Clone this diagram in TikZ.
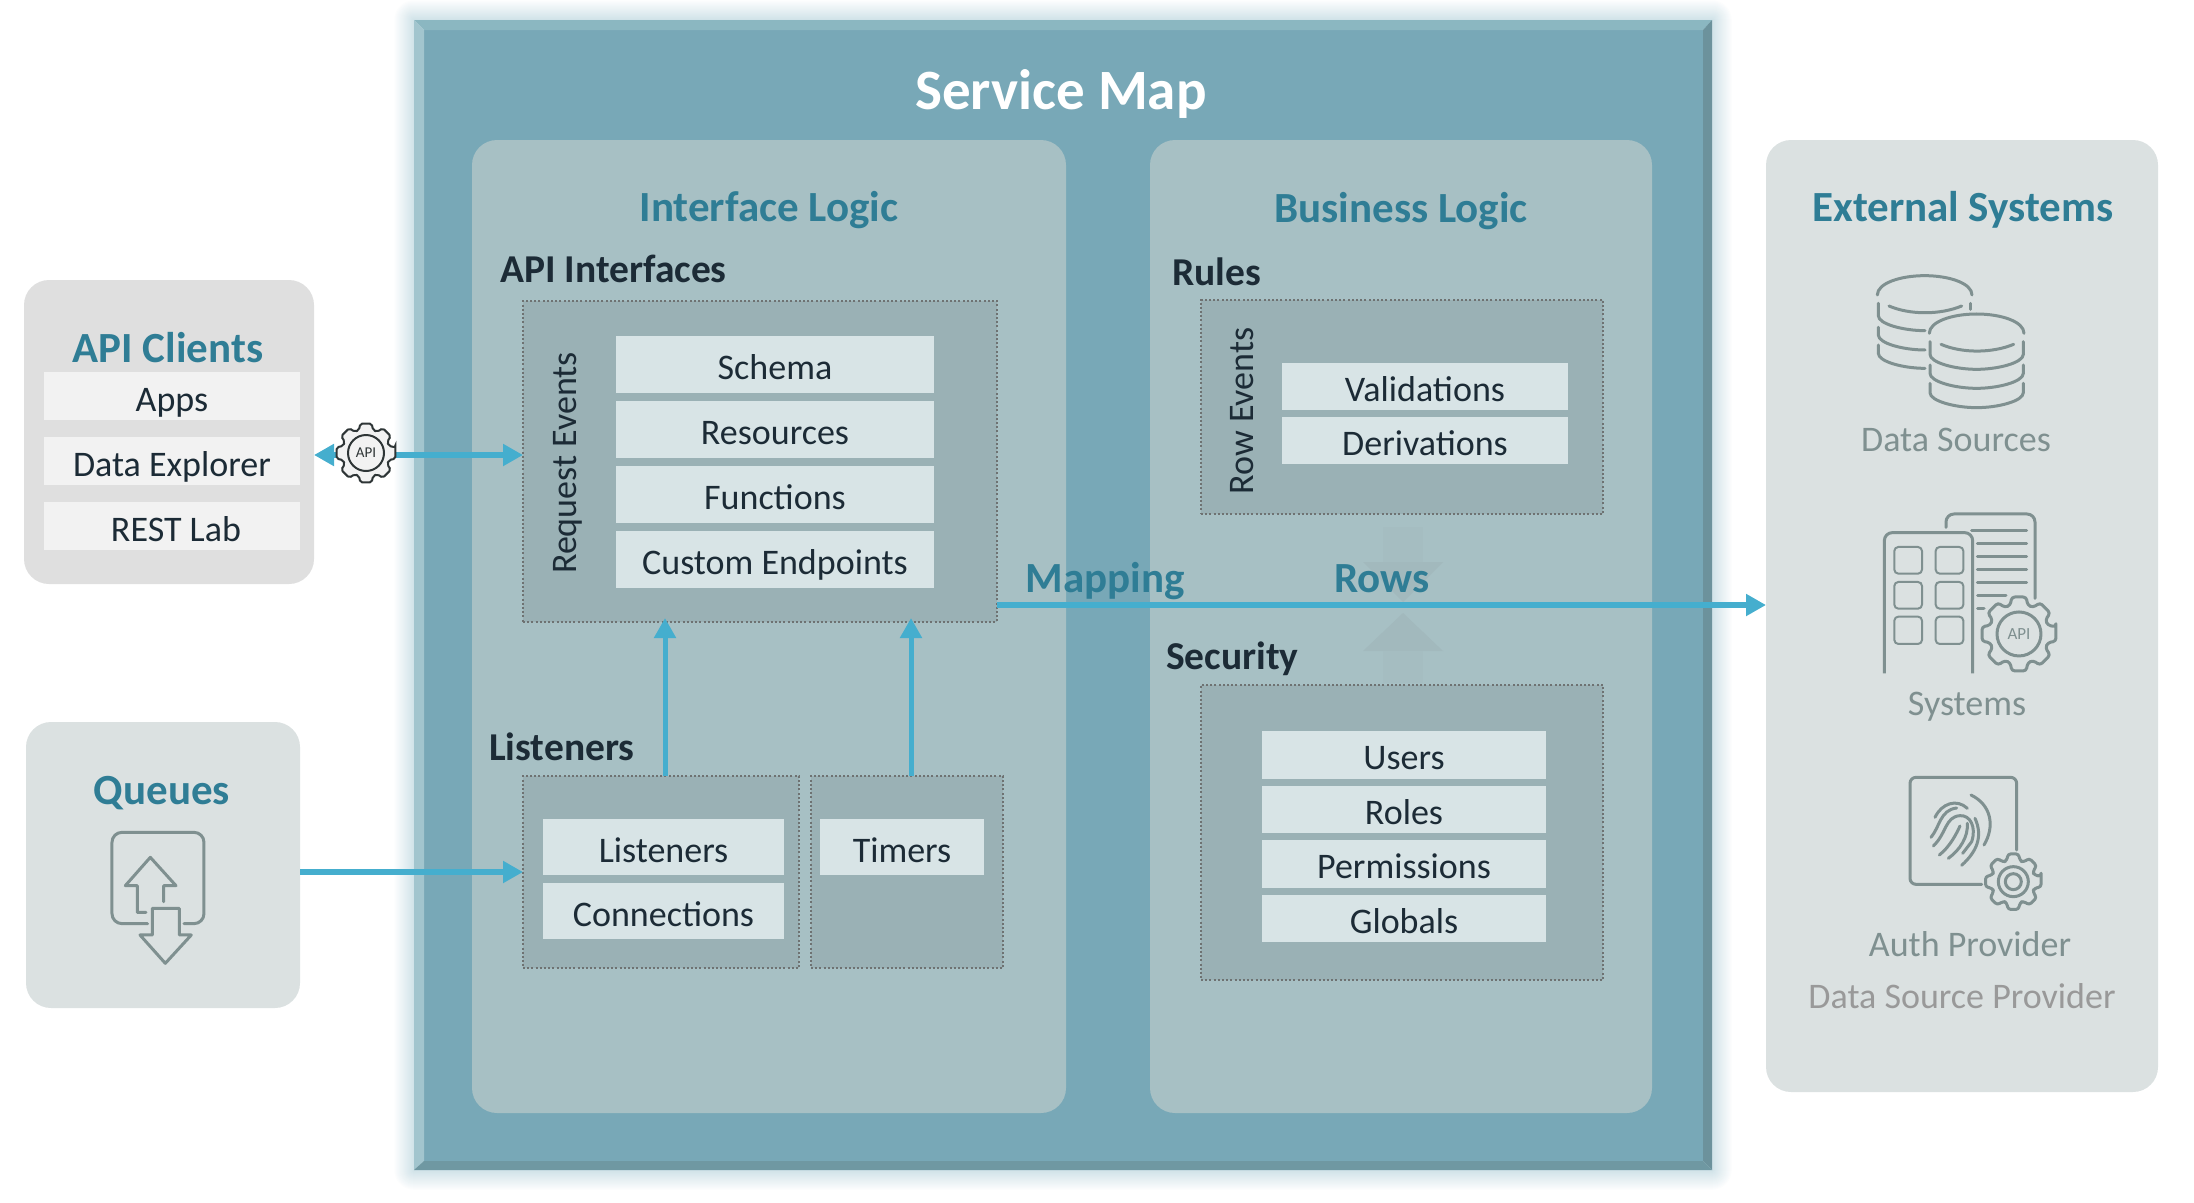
\documentclass[tikz,border=0pt]{standalone}
\usepackage{fontspec}
\setmainfont{Carlito}
\usepackage{xcolor}
\usepackage{tikz}
\usetikzlibrary{arrows.meta,positioning,calc}

\definecolor{frameblue}{HTML}{78A8B7}
\definecolor{bevtop}{HTML}{8BB7C1}
\definecolor{bevleft}{HTML}{A2C5CE}
\definecolor{bevright}{HTML}{6C929C}
\definecolor{bevbottom}{HTML}{6F98A2}
\definecolor{glowtint}{HTML}{CFE2E8}
\definecolor{panelblue}{HTML}{A7C0C4}
\definecolor{boxblue}{HTML}{9AB1B5}
\definecolor{rowfill}{HTML}{D8E4E6}
\definecolor{greypanel}{HTML}{DBE1E1}
\definecolor{clientpanel}{HTML}{DFDFDF}
\definecolor{clientrow}{HTML}{F2F2F2}
\definecolor{inkdark}{HTML}{1C2B36}
\definecolor{headteal}{HTML}{2F7D95}
\definecolor{flowblue}{HTML}{45AECE}
\definecolor{icongrey}{HTML}{7F9090}
\definecolor{dotgrey}{HTML}{6E7272}
\definecolor{fadearrow}{HTML}{A2B9BD}
\definecolor{fadestem}{HTML}{A5BDC1}

% one cog outline, radii in the units of the scope
\newcommand{\cogpath}[2]{(-11:#1) \foreach \a in {0,45,...,315} { -- (\a-11:#1) -- (\a+11:#1) -- (\a+17:#2) -- (\a+28:#2) } -- cycle}

\begin{document}
\begin{tikzpicture}[x=1pt, y=-1pt,
    panel/.style={rectangle, fill=#1, rounded corners=25pt, inner sep=0pt, outer sep=0pt, anchor=north west},
    dotbox/.style={rectangle, draw=dotgrey, fill=boxblue, line width=1.5pt, dash pattern=on 2pt off 2.2pt, inner sep=0pt, outer sep=0pt, anchor=north west},
    rowitem/.style={rectangle, fill=rowfill, text=inkdark, inner sep=0pt, outer sep=0pt, text height=33pt, text depth=3pt, font=\fontsize{36}{38}\selectfont},
    ifacerow/.style={rowitem, minimum width=318pt, minimum height=57pt},
    clientitem/.style={rowitem, fill=clientrow, minimum width=256pt, minimum height=48pt},
    lsnrow/.style={rowitem, minimum width=241pt, minimum height=56pt},
    rulerow/.style={rowitem, minimum width=286pt, minimum height=47pt},
    secrow/.style={rowitem, minimum width=284pt, minimum height=47.5pt},
    heading/.style={text=headteal, inner sep=0pt, anchor=base, font=\fontsize{43}{46}\selectfont\bfseries},
    subhead/.style={text=inkdark, inner sep=0pt, anchor=base west, font=\fontsize{39.5}{44}\selectfont\bfseries},
    iconlabel/.style={text=icongrey, inner sep=0pt, anchor=base, font=\fontsize{36}{38}\selectfont},
    flow/.style={draw=flowblue, line width=6pt, >={Triangle[length=20pt, width=21pt]}},
    iconline/.style={draw=icongrey, line width=3pt, line cap=round, line join=round},
    thinline/.style={draw=icongrey, line width=2pt, line join=round}]

    \useasboundingbox (0,0) rectangle (2194,1202);

    % Frame with glow and bevel
    \node[rectangle, inner sep=0pt, outer sep=0pt, anchor=north west, minimum width=1298pt, minimum height=1150pt] (frame) at (414,20) {};
    \foreach \g in {20,...,1} {
        \pgfmathtruncatemacro\pct{100*(1-\g/21)}
        \fill[glowtint!\pct!white, rounded corners=\g pt] ($(frame.north west)+(-\g,-\g)$) rectangle ($(frame.south east)+(\g,\g)$);
    }
    \node[rectangle, fill=frameblue, inner sep=0pt, outer sep=0pt, anchor=north west, minimum width=1279pt, minimum height=1131pt] (frameinner) at (424,30) {};
    \fill[bevtop] (frame.north west) -- (frame.north east) -- (frameinner.north east) -- (frameinner.north west) -- cycle;
    \fill[bevleft] (frame.north west) -- (frame.south west) -- (frameinner.south west) -- (frameinner.north west) -- cycle;
    \fill[bevright] (frame.north east) -- (frame.south east) -- (frameinner.south east) -- (frameinner.north east) -- cycle;
    \fill[bevbottom] (frame.south west) -- (frame.south east) -- (frameinner.south east) -- (frameinner.south west) -- cycle;
    \node[inner sep=0pt, anchor=base, text=white, font=\fontsize{57}{60}\selectfont\bfseries] (maptitle) at (1061,109) {Service Map};

    % Panels
    \node[panel=panelblue, minimum width=594pt, minimum height=973pt] (iface) at (472,140) {};
    \node[panel=panelblue, minimum width=502pt, minimum height=973pt] (business) at (1150,140) {};
    \node[panel=greypanel, minimum width=392pt, minimum height=952pt] (external) at (1766,140) {};
    \node[panel=clientpanel, minimum width=290pt, minimum height=304pt] (clients) at (24,280) {};
    \node[panel=greypanel, minimum width=274pt, minimum height=286pt] (queues) at (26,722) {};

    % Faded arrows between the business boxes
    \fill[fadestem] (1383,527) -- (1423,527) -- (1423,562) -- (1383,562) -- cycle;
    \fill[fadearrow] (1363,562) -- (1443,562) -- (1403,602) -- cycle;
    \fill[fadearrow] (1363,651) -- (1443,651) -- (1403,613) -- cycle;
    \fill[fadestem] (1383,651) -- (1423,651) -- (1423,683) -- (1383,683) -- cycle;

    \node[heading] (ifacetitle) at (769,221) {Interface Logic};
    \node[heading] (businesstitle) at (1401,222) {Business Logic};
    \node[heading] (externaltitle) at (1963,221) {External Systems};
    \node[heading] (clienttitle) at (168,362) {API Clients};
    \node[heading] (queuetitle) at (162,804) {Queues};
    \node[heading] (maplabel) at (1105,592) {Mapping};
    \node[heading] (rowslabel) at (1382,592) {Rows};

    \node[subhead] (apilabel) at (500,282) {API Interfaces};
    \node[subhead] (lsnlabel) at (489,760) {Listeners};
    \node[subhead] (ruleslabel) at (1172,285) {Rules};
    \node[subhead] (seclabel) at (1166,669) {Security};

    % Interface logic
    \node[dotbox, minimum width=474pt, minimum height=321pt] (reqbox) at (523,301) {};
    \node[rotate=90, text=inkdark, inner sep=0pt, font=\fontsize{36}{38}\selectfont] (reqlabel) at (568,463) {Request Events};
    \node[ifacerow, anchor=north west] (schema) at (616,336) {Schema};
    \node[ifacerow, below=8pt of schema] (resources) {Resources};
    \node[ifacerow, below=8pt of resources] (functions) {Functions};
    \node[ifacerow, below=8pt of functions] (endpoints) {Custom Endpoints};

    % Listeners and timers
    \node[dotbox, minimum width=276pt, minimum height=192pt] (lsnbox) at (523,776) {};
    \node[dotbox, minimum width=192pt, minimum height=192pt] (timerbox) at (811,776) {};
    \node[lsnrow, anchor=north west] (listeners) at (543,819) {Listeners};
    \node[lsnrow, below=8pt of listeners] (connections) {Connections};
    \node[rowitem, anchor=north west, minimum width=164pt, minimum height=56pt] (timers) at (820,819) {Timers};

    % Business logic
    \node[dotbox, minimum width=402pt, minimum height=214pt] (rulebox) at (1201,300) {};
    \node[rotate=90, text=inkdark, inner sep=0pt, font=\fontsize{36}{38}\selectfont] (rowevents) at (1242,411) {Row Events};
    \node[rulerow, anchor=north west] (validations) at (1282,363) {Validations};
    \node[rulerow, below=7pt of validations] (derivations) {Derivations};

    \node[dotbox, minimum width=402pt, minimum height=295pt] (secbox) at (1201,685) {};
    \node[secrow, anchor=north west] (users) at (1262,731) {Users};
    \node[secrow, below=7pt of users] (roles) {Roles};
    \node[secrow, below=7pt of roles] (permissions) {Permissions};
    \node[secrow, below=7pt of permissions] (globals) {Globals};

    % API clients
    \node[clientitem, anchor=north west] (apps) at (44,372) {Apps};
    \node[clientitem, below=17pt of apps] (explorer) {Data Explorer};
    \node[clientitem, below=17pt of explorer] (restlab) {\hspace*{8pt}REST Lab};

    % Arrows
    \coordinate (apirow) at (0,455);
    \coordinate (maprow) at (0,605);
    \coordinate (upleft) at (665,0);
    \coordinate (upright) at (911,0);
    \draw[flow, <->] (clients.east |- apirow) -- (reqbox.west |- apirow);
    \draw[flow, ->] (queues.east |- lsnbox.west) -- (lsnbox.west);
    \draw[flow, ->] (reqbox.east |- maprow) -- (external.west |- maprow);
    \draw[flow, ->, line width=5pt, shorten >=-4pt] (lsnbox.north -| upleft) -- (reqbox.south -| upleft);
    \draw[flow, ->, line width=5pt, shorten >=-4pt] (timerbox.north -| upright) -- (reqbox.south -| upright);

    % API cog
    \begin{scope}[shift={(366,453)}]
        \draw[draw=black!70!boxblue, fill=clientrow, line width=2pt, rounded corners=2pt] \cogpath{30}{24};
        \draw[draw=black!70!boxblue, line width=2pt] (0,0) circle (18pt);
        \node[inner sep=0pt, text=black!70!boxblue, font=\fontsize{15}{16}\selectfont] (apicog) at (0,0) {API};
    \end{scope}

    % Queue icon
    \begin{scope}[shift={(20,720)}, x=0.3333pt, y=-0.3333pt]
        \draw[iconline, rounded corners=10pt] (383,611) -- (276,611) -- (276,337) -- (552,337) -- (552,611) -- (492,611);
        \draw[iconline] (378,577) -- (352,577) -- (352,497) -- (316,497) -- (391,412) -- (468,497) -- (431,497) -- (431,545);
        \draw[iconline] (397,565) -- (478,565) -- (478,645) -- (514,645) -- (436,730) -- (360,645) -- (397,645) -- cycle;
    \end{scope}

    % External systems
    \begin{scope}[shift={(1780,240)}, x=0.3333pt, y=-0.3333pt]
        % data sources
        \draw[iconline] (292,165) .. controls (292,130) and (360,107) .. (434,107) .. controls (508,107) and (576,130) .. (576,165);
        \draw[iconline] (327,198) .. controls (390,225) and (480,225) .. (545,198);
        \draw[iconline] (572,190) -- (572,208);
        \foreach \sy/\by in {190/272,262/330,315/385}
            \draw[iconline] (295,\sy) -- (295,\by-45) .. controls (295,\by-20) and (370,\by) .. (435,\by);
        \draw[iconline] (448,280) .. controls (448,245) and (516,222) .. (590,222) .. controls (664,222) and (732,245) .. (732,280);
        \draw[iconline] (483,313) .. controls (546,340) and (636,340) .. (701,313);
        \foreach \sy/\by in {305/388,375/445,430/503}
            \draw[iconline] (450,\sy) -- (450,\by-45) .. controls (450,\by-20) and (525,\by) .. (590,\by) .. controls (655,\by) and (730,\by-20) .. (730,\by-45) -- (730,\sy);
        % systems
        \draw[iconline, rounded corners=8pt] (498,862) -- (498,822) -- (765,822) -- (765,1075);
        \foreach \ly in {912,951,990,1028}
            \draw[iconline] (592,\ly) -- (740,\ly);
        \draw[iconline] (575,873) -- (740,873);
        \draw[iconline] (593,1067) -- (678,1067);
        \draw[iconline] (593,1105) -- (612,1105);
        \draw[iconline, rounded corners=8pt, line cap=butt] (313,1300) -- (313,878) -- (578,878) -- (578,1300);
        \foreach \wx in {343,467}
            \foreach \wy/\wh in {921/1001,1026/1106,1130/1212}
                \draw[thinline, rounded corners=4pt] (\wx,\wy) rectangle (\wx+83,\wh);
        \begin{scope}[shift={(717,1182)}]
            \draw[iconline, rounded corners=3pt] \cogpath{113}{90};
            \draw[iconline] (0,0) circle (22pt);
            \node[inner sep=0pt, text=icongrey, font=\fontsize{17}{18}\selectfont] (syscog) at (0,0) {API};
        \end{scope}
    \end{scope}
    \node[iconlabel] (dslabel) at (1956,451) {Data Sources};
    \node[iconlabel] (syslabel) at (1967,715) {Systems};

    \begin{scope}[shift={(1780,720)}, x=0.3333pt, y=-0.3333pt]
        % auth provider
        \draw[iconline, rounded corners=6pt] (710,390) -- (710,172) -- (390,172) -- (390,493) -- (605,493);
        \begin{scope}[shift={(700,485)}]
            \draw[iconline, rounded corners=3pt] \cogpath{85}{66};
            \draw[iconline] (0,0) circle (15pt);
            \draw[iconline] (0,0) circle (8pt);
        \end{scope}
        \draw[iconline] (573,225) .. controls (635,255) and (645,320) .. (612,375);
        \draw[iconline] (465,292) .. controls (485,250) and (530,235) .. (562,265);
        \draw[iconline] (453,352) .. controls (480,320) and (480,270) .. (530,264);
        \draw[iconline] (460,378) .. controls (500,340) and (495,290) .. (540,287) .. controls (570,285) and (590,320) .. (575,365) -- (548,400);
        \draw[iconline] (478,405) .. controls (510,380) and (530,340) .. (540,318);
        \draw[iconline] (505,415) .. controls (540,390) and (565,350) .. (562,310);
        \draw[iconline] (545,436) .. controls (590,395) and (610,350) .. (585,295);
    \end{scope}
    \node[iconlabel] (authlabel) at (1970,956) {Auth Provider};
    \node[iconlabel, text=black!40] (dsplabel) at (1962,1008) {Data Source Provider};

\end{tikzpicture}
\end{document}
